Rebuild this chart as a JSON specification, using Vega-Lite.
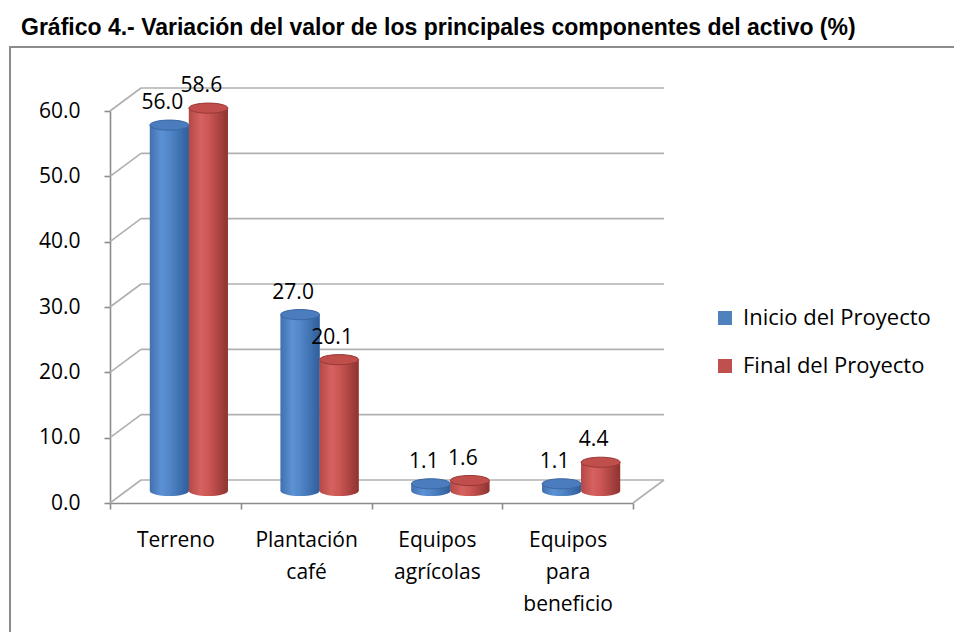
{
  "$schema": "https://vega.github.io/schema/vega-lite/v6.json",
  "width": 944,
  "height": 585,
  "autosize": "none",
  "padding": {"left": 10, "top": 47, "right": 0, "bottom": 0},
  "background": "white",
  "title": {
    "text": "Gráfico 4.- Variación del valor de los principales componentes del activo (%)",
    "anchor": "start",
    "frame": "group",
    "font": "Liberation Sans",
    "fontSize": 23,
    "fontWeight": "bold",
    "color": "#000000",
    "offset": 16,
    "dx": 11,
    "dy": 27,
    "baseline": "alphabetic"
  },
  "datasets": {
    "main": [
      {"cat": "Terreno", "serie": "Inicio del Proyecto", "value": 56.0},
      {"cat": "Terreno", "serie": "Final del Proyecto", "value": 58.6},
      {"cat": "Plantación café", "serie": "Inicio del Proyecto", "value": 27.0},
      {"cat": "Plantación café", "serie": "Final del Proyecto", "value": 20.1},
      {"cat": "Equipos agrícolas", "serie": "Inicio del Proyecto", "value": 1.1},
      {"cat": "Equipos agrícolas", "serie": "Final del Proyecto", "value": 1.6},
      {"cat": "Equipos para beneficio", "serie": "Inicio del Proyecto", "value": 1.1},
      {"cat": "Equipos para beneficio", "serie": "Final del Proyecto", "value": 4.4}
    ],
    "grid": [{"v": 0}, {"v": 10}, {"v": 20}, {"v": 30}, {"v": 40}, {"v": 50}, {"v": 60}],
    "floor": [{"v": 0}]
  },
  "data": {"name": "main"},
  "layer": [
    {
      "layer": [
        {
          "data": {"name": "grid"},
          "mark": {"type": "rule", "color": "#b0b0b0", "strokeWidth": 1.6, "xOffset": 31, "x2Offset": 31, "yOffset": -23, "y2Offset": -23},
          "encoding": {
            "x": {"datum": 0, "type": "quantitative", "scale": {"domain": [0, 1], "range": [100, 623]}, "axis": null},
            "x2": {"datum": 1},
            "y": {"field": "v", "type": "quantitative", "title": null},
            "y2": {"field": "v"}
          }
        },
        {
          "data": {"name": "grid"},
          "mark": {"type": "rule", "color": "#b0b0b0", "strokeWidth": 1.6, "x2Offset": 31, "y2Offset": -23},
          "encoding": {
            "x": {"datum": 0, "type": "quantitative", "axis": null},
            "x2": {"datum": 0},
            "y": {"field": "v", "type": "quantitative", "title": null},
            "y2": {"field": "v"}
          }
        },
        {
          "data": {"name": "floor"},
          "mark": {"type": "rule", "color": "#b0b0b0", "strokeWidth": 1.6, "x2Offset": 31, "y2Offset": -23},
          "encoding": {
            "x": {"datum": 1, "type": "quantitative", "axis": null},
            "x2": {"datum": 1},
            "y": {"field": "v", "type": "quantitative", "title": null},
            "y2": {"field": "v"}
          }
        }
      ]
    },
    {
      "layer": [
        {
          "transform": [{"filter": "datum.serie === 'Inicio del Proyecto'"}],
          "mark": {"type": "bar", "width": 39, "xOffset": -6, "yOffset": -12, "y2Offset": -12},
          "encoding": {
            "x": {
              "field": "cat", "type": "nominal", "sort": null, "title": null,
              "scale": {"domain": ["Terreno", "Plantación café", "Equipos agrícolas", "Equipos para beneficio"], "range": [100, 623], "paddingInner": 0, "paddingOuter": 0},
              "axis": {"title": null, "labelExpr": "split(datum.label, ' ')", "labelOverlap": false, "labelBound": false}
            },
            "y": {
              "field": "value", "type": "quantitative", "title": null,
              "scale": {"domain": [0, 60], "range": [456, 64], "nice": false},
              "axis": {"title": null, "values": [0, 10, 20, 30, 40, 50, 60], "format": ".1f"}
            },
            "color": {
              "field": "serie", "type": "nominal",
              "scale": {"domain": ["Inicio del Proyecto", "Final del Proyecto"], "range": ["#4F81BD", "#C0504D"]},
              "legend": {"title": null}
            }
          }
        },
        {
          "transform": [{"filter": "datum.serie === 'Final del Proyecto'"}],
          "mark": {"type": "bar", "width": 39, "xOffset": 33, "yOffset": -12, "y2Offset": -12},
          "encoding": {
            "x": {"field": "cat", "type": "nominal", "sort": null, "title": null},
            "y": {"field": "value", "type": "quantitative", "title": null},
            "color": {"field": "serie", "type": "nominal", "legend": {"title": null}}
          }
        },
        {
          "transform": [{"filter": "datum.serie === 'Inicio del Proyecto'"}],
          "mark": {"type": "point", "shape": "M-1,0A1,0.26,0,1,1,1,0A1,0.26,0,1,1,-1,0Z", "size": 1521, "filled": true, "opacity": 1, "strokeWidth": 0,
            "fill": {"gradient": "linear", "x1": 0, "x2": 1, "y1": 0, "y2": 0, "stops": [{"offset": 0, "color": "#4270ad"}, {"offset": 0.3, "color": "#5b92d5"}, {"offset": 0.5, "color": "#5287c9"}, {"offset": 1, "color": "#2f5e9b"}]},
            "xOffset": -6, "yOffset": -12},
          "encoding": {
            "x": {"field": "cat", "type": "nominal", "sort": null, "title": null},
            "y": {"datum": 0, "type": "quantitative", "title": null}
          }
        },
        {
          "transform": [{"filter": "datum.serie === 'Final del Proyecto'"}],
          "mark": {"type": "point", "shape": "M-1,0A1,0.26,0,1,1,1,0A1,0.26,0,1,1,-1,0Z", "size": 1521, "filled": true, "opacity": 1, "strokeWidth": 0,
            "fill": {"gradient": "linear", "x1": 0, "x2": 1, "y1": 0, "y2": 0, "stops": [{"offset": 0, "color": "#b44846"}, {"offset": 0.3, "color": "#d6625f"}, {"offset": 0.5, "color": "#cc5754"}, {"offset": 1, "color": "#8e3331"}]},
            "xOffset": 33, "yOffset": -12},
          "encoding": {
            "x": {"field": "cat", "type": "nominal", "sort": null, "title": null},
            "y": {"datum": 0, "type": "quantitative", "title": null}
          }
        },
        {
          "transform": [{"filter": "datum.serie === 'Inicio del Proyecto'"}],
          "mark": {"type": "bar", "width": 39, "xOffset": -6, "yOffset": -12, "y2Offset": -12,
            "fill": {"gradient": "linear", "x1": 0, "x2": 1, "y1": 0, "y2": 0, "stops": [{"offset": 0, "color": "#4270ad"}, {"offset": 0.3, "color": "#5b92d5"}, {"offset": 0.5, "color": "#5287c9"}, {"offset": 1, "color": "#2f5e9b"}]}},
          "encoding": {
            "x": {"field": "cat", "type": "nominal", "sort": null, "title": null},
            "y": {"field": "value", "type": "quantitative", "title": null}
          }
        },
        {
          "transform": [{"filter": "datum.serie === 'Final del Proyecto'"}],
          "mark": {"type": "bar", "width": 39, "xOffset": 33, "yOffset": -12, "y2Offset": -12,
            "fill": {"gradient": "linear", "x1": 0, "x2": 1, "y1": 0, "y2": 0, "stops": [{"offset": 0, "color": "#b44846"}, {"offset": 0.3, "color": "#d6625f"}, {"offset": 0.5, "color": "#cc5754"}, {"offset": 1, "color": "#8e3331"}]}},
          "encoding": {
            "x": {"field": "cat", "type": "nominal", "sort": null, "title": null},
            "y": {"field": "value", "type": "quantitative", "title": null}
          }
        },
        {
          "transform": [{"filter": "datum.serie === 'Inicio del Proyecto'"}],
          "mark": {"type": "point", "shape": "M-1,0A1,0.26,0,1,1,1,0A1,0.26,0,1,1,-1,0Z", "size": 1521, "filled": true, "opacity": 1,
            "fill": "#4b7cbd", "stroke": "#3a67a3", "strokeWidth": 1, "xOffset": -6, "yOffset": -12},
          "encoding": {
            "x": {"field": "cat", "type": "nominal", "sort": null, "title": null},
            "y": {"field": "value", "type": "quantitative", "title": null}
          }
        },
        {
          "transform": [{"filter": "datum.serie === 'Final del Proyecto'"}],
          "mark": {"type": "point", "shape": "M-1,0A1,0.26,0,1,1,1,0A1,0.26,0,1,1,-1,0Z", "size": 1521, "filled": true, "opacity": 1,
            "fill": "#c04e4b", "stroke": "#973836", "strokeWidth": 1, "xOffset": 33, "yOffset": -12},
          "encoding": {
            "x": {"field": "cat", "type": "nominal", "sort": null, "title": null},
            "y": {"field": "value", "type": "quantitative", "title": null}
          }
        },
        {
          "transform": [{"filter": "datum.serie === 'Inicio del Proyecto'"}],
          "mark": {"type": "text", "font": "Open Sans", "fontSize": 21, "color": "#000000", "dx": -13, "dy": -34, "baseline": "middle", "align": "center"},
          "encoding": {
            "x": {"field": "cat", "type": "nominal", "sort": null, "title": null},
            "y": {"field": "value", "type": "quantitative", "title": null},
            "text": {"field": "value", "type": "quantitative", "format": ".1f"}
          }
        },
        {
          "transform": [{"filter": "datum.serie === 'Final del Proyecto'"}],
          "mark": {"type": "text", "font": "Open Sans", "fontSize": 21, "color": "#000000", "dx": 26, "dy": -34, "baseline": "middle", "align": "center"},
          "encoding": {
            "x": {"field": "cat", "type": "nominal", "sort": null, "title": null},
            "y": {"field": "value", "type": "quantitative", "title": null},
            "text": {"field": "value", "type": "quantitative", "format": ".1f"}
          }
        }
      ]
    }
  ],
  "resolve": {"scale": {"x": "independent"}},
  "config": {
    "view": {"stroke": "#8c8c8c", "strokeWidth": 2, "strokeDash": [944, 1529, 585]},
    "axisX": {
      "offset": -129, "domainColor": "#8c8c8c", "domainWidth": 1.6, "tickColor": "#8c8c8c", "tickWidth": 1.6, "tickSize": 6,
      "tickBand": "extent", "labelFont": "Open Sans", "labelFontSize": 21, "labelColor": "#000000", "labelPadding": 20,
      "labelLineHeight": 32, "labelAngle": 0, "grid": false
    },
    "axisY": {
      "offset": -100, "domainColor": "#8c8c8c", "domainWidth": 1.6, "tickColor": "#8c8c8c", "tickWidth": 1.6, "tickSize": 6,
      "labelFont": "Open Sans", "labelFontSize": 21, "labelColor": "#000000", "labelPadding": 24, "grid": false
    },
    "legend": {
      "orient": "none", "legendX": 704, "legendY": 260, "direction": "vertical", "symbolType": "square", "symbolSize": 196,
      "symbolStrokeWidth": 0, "labelFont": "Open Sans", "labelFontSize": 22, "labelColor": "#000000", "labelOffset": 7,
      "labelLimit": 400, "rowPadding": 26, "padding": 0
    }
  }
}
